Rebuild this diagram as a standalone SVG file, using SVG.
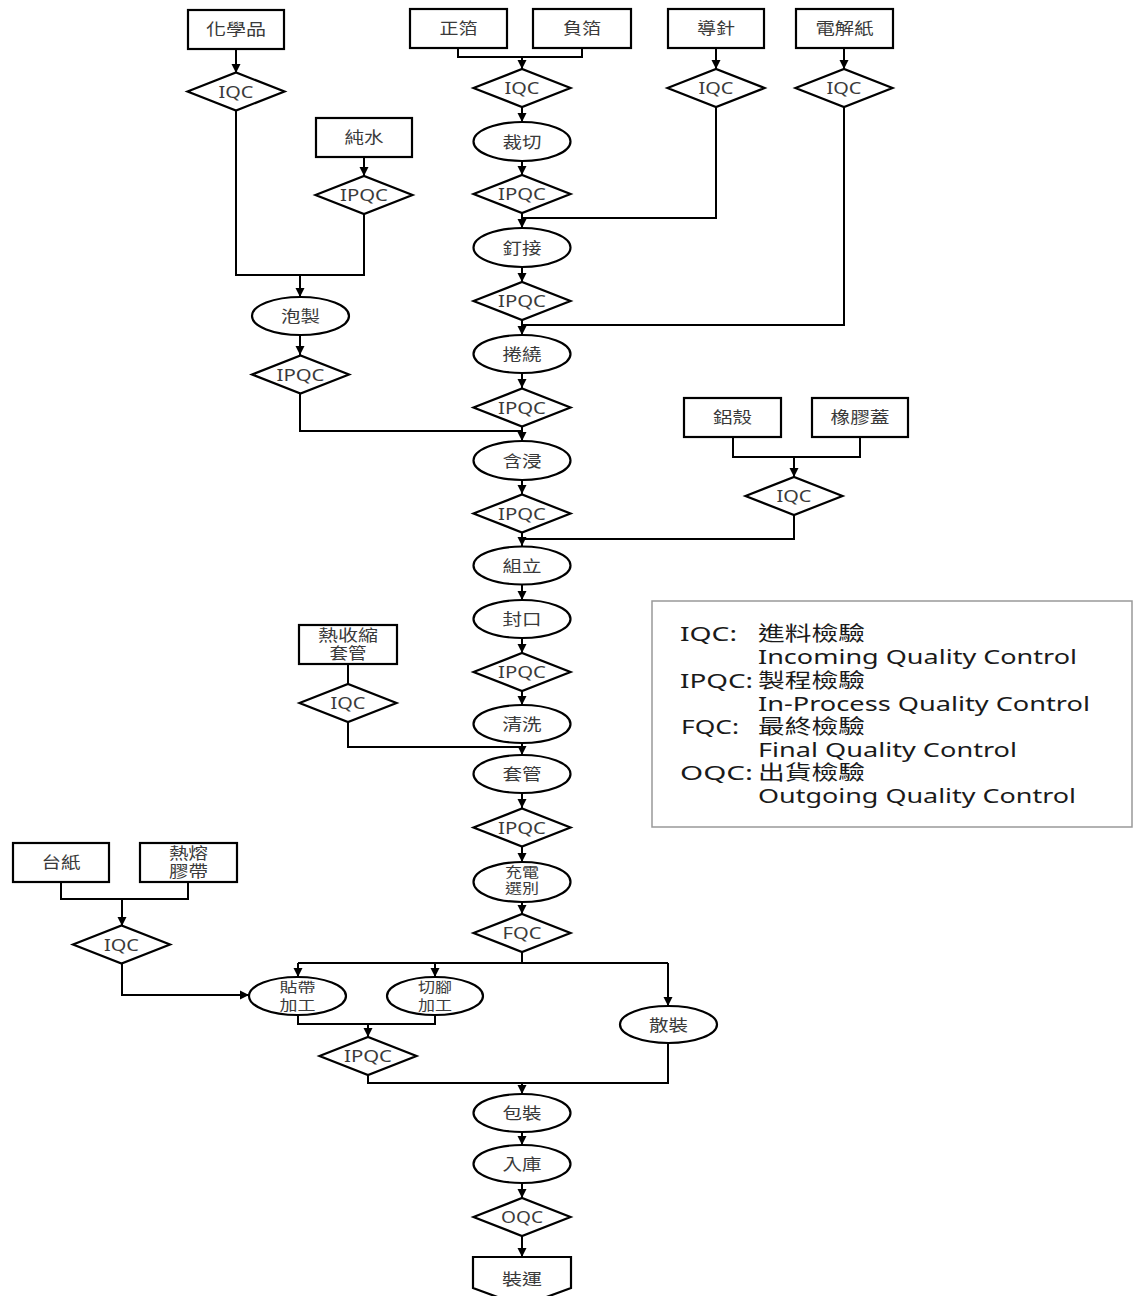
<svg xmlns="http://www.w3.org/2000/svg" width="1134" height="1296" viewBox="0 0 1134 1296">
<style>
.b{fill:#fff;stroke:#000;stroke-width:2.2}
.c{fill:none;stroke:#000;stroke-width:2}
.a{fill:none;stroke:#000;stroke-width:2;marker-end:url(#ah)}
.t{font-family:"Noto Sans","Noto Sans CJK TC",sans-serif;font-size:16px;fill:#3a3a3a;text-anchor:middle}
.q{font-family:"Noto Sans","Noto Sans CJK TC",sans-serif;font-size:17px;fill:#3a3a3a;text-anchor:middle}
.s{font-family:"Noto Sans","Noto Sans CJK TC",sans-serif;font-size:13.5px;fill:#3a3a3a;text-anchor:middle}
.l{font-family:"Noto Sans","Noto Sans CJK TC",sans-serif;font-size:20px;fill:#1a1a1a}
</style>
<defs>
<marker id="ah" viewBox="0 0 10 10" markerWidth="9" markerHeight="10" refX="10" refY="5" orient="auto" markerUnits="userSpaceOnUse"><path d="M0,0 L10,5 L0,10 z" fill="#000"/></marker>
</defs>
<rect width="1134" height="1296" fill="#fff"/>

<g id="connectors">
<path class="a" d="M236,49 V73"/>
<path class="c" d="M236,110 V275 H364 V214"/>
<path class="a" d="M300,275 V297"/>
<path class="a" d="M364,157 V176"/>
<path class="a" d="M300,335 V355"/>
<path class="c" d="M300,393 V431 H522"/>
<path class="c" d="M458,48 V57 H582 V48"/>
<path class="a" d="M522,57 V69"/>
<path class="a" d="M716,48 V69"/>
<path class="a" d="M844,48 V69"/>
<path class="a" d="M522,107 V122"/>
<path class="a" d="M522,161 V175"/>
<path class="c" d="M716,107 V218 H522"/>
<path class="a" d="M522,213 V228"/>
<path class="a" d="M522,267 V282"/>
<path class="c" d="M844,107 V325 H522"/>
<path class="a" d="M522,320 V335"/>
<path class="a" d="M522,373 V388"/>
<path class="a" d="M522,427 V441"/>
<path class="a" d="M522,480 V494"/>
<path class="c" d="M733,437 V457 H860 V437"/>
<path class="a" d="M794,457 V477"/>
<path class="c" d="M794,515 V539 H522"/>
<path class="a" d="M522,533 V546"/>
<path class="a" d="M522,585 V600"/>
<path class="a" d="M522,638 V653"/>
<path class="a" d="M522,691 V705"/>
<path class="c" d="M348,664 V684"/>
<path class="c" d="M348,722 V747 H522"/>
<path class="a" d="M522,743 V755"/>
<path class="a" d="M522,793 V808"/>
<path class="a" d="M522,847 V862"/>
<path class="a" d="M522,902 V914"/>
<path class="c" d="M522,952 V963 M298,963 H668"/>
<path class="a" d="M298,963 V977"/>
<path class="a" d="M435,963 V977"/>
<path class="a" d="M668,963 V1006"/>
<path class="c" d="M61,882 V899 H188 V882"/>
<path class="a" d="M122,899 V926"/>
<path class="a" d="M122,963 V995 H249"/>
<path class="c" d="M298,1015 V1024 H435 V1015"/>
<path class="a" d="M368,1024 V1037"/>
<path class="c" d="M368,1075 V1083 H668 V1043"/>
<path class="a" d="M522,1083 V1094"/>
<path class="a" d="M522,1132 V1145"/>
<path class="a" d="M522,1183 V1198"/>
<path class="a" d="M522,1236 V1257"/>
</g>

<g id="n-chem"><rect class="b" x="188" y="10" width="96" height="39"/><text class="t" x="236" y="35" textLength="60" lengthAdjust="spacingAndGlyphs">化學品</text></g>
<g id="n-chem-iqc"><polygon class="b" points="187.5,91.5 236,72.5 284.5,91.5 236,110.5"/><text class="q" x="236" y="97.5" textLength="35" lengthAdjust="spacingAndGlyphs">IQC</text></g>
<g id="n-water"><rect class="b" x="316" y="118" width="96" height="39"/><text class="t" x="364" y="143" textLength="39" lengthAdjust="spacingAndGlyphs">純水</text></g>
<g id="n-water-ipqc"><polygon class="b" points="315.5,195 364,176 412.5,195 364,214"/><text class="q" x="364" y="201" textLength="48" lengthAdjust="spacingAndGlyphs">IPQC</text></g>
<g id="n-pos"><rect class="b" x="410" y="9" width="97" height="39"/><text class="t" x="458.5" y="34" textLength="38" lengthAdjust="spacingAndGlyphs">正箔</text></g>
<g id="n-neg"><rect class="b" x="533" y="9" width="98" height="39"/><text class="t" x="582" y="34" textLength="38" lengthAdjust="spacingAndGlyphs">負箔</text></g>
<g id="n-lead"><rect class="b" x="668" y="9" width="96" height="39"/><text class="t" x="716" y="34" textLength="38" lengthAdjust="spacingAndGlyphs">導針</text></g>
<g id="n-paper"><rect class="b" x="796" y="9" width="97" height="39"/><text class="t" x="844.5" y="34" textLength="58" lengthAdjust="spacingAndGlyphs">電解紙</text></g>
<g id="n-foil-iqc"><polygon class="b" points="473.5,88 522,69 570.5,88 522,107"/><text class="q" x="522" y="94" textLength="35" lengthAdjust="spacingAndGlyphs">IQC</text></g>
<g id="n-lead-iqc"><polygon class="b" points="667.5,88 716,69 764.5,88 716,107"/><text class="q" x="716" y="94" textLength="35" lengthAdjust="spacingAndGlyphs">IQC</text></g>
<g id="n-paper-iqc"><polygon class="b" points="795.5,88 844,69 892.5,88 844,107"/><text class="q" x="844" y="94" textLength="35" lengthAdjust="spacingAndGlyphs">IQC</text></g>
<g id="n-cut"><ellipse class="b" cx="522" cy="141.5" rx="48.5" ry="19.5"/><text class="t" x="522" y="147.5" textLength="39" lengthAdjust="spacingAndGlyphs">裁切</text></g>
<g id="n-cut-ipqc"><polygon class="b" points="473.5,194 522,175 570.5,194 522,213"/><text class="q" x="522" y="200" textLength="48" lengthAdjust="spacingAndGlyphs">IPQC</text></g>
<g id="n-stitch"><ellipse class="b" cx="522" cy="247.5" rx="48.5" ry="19.5"/><text class="t" x="522" y="253.5" textLength="39" lengthAdjust="spacingAndGlyphs">釘接</text></g>
<g id="n-stitch-ipqc"><polygon class="b" points="473.5,301 522,282 570.5,301 522,320"/><text class="q" x="522" y="307" textLength="48" lengthAdjust="spacingAndGlyphs">IPQC</text></g>
<g id="n-soak"><ellipse class="b" cx="300.5" cy="316" rx="48.5" ry="19"/><text class="t" x="300.5" y="322" textLength="39" lengthAdjust="spacingAndGlyphs">泡製</text></g>
<g id="n-soak-ipqc"><polygon class="b" points="252,374.5 300.5,355.5 349,374.5 300.5,393.5"/><text class="q" x="300.5" y="380.5" textLength="48" lengthAdjust="spacingAndGlyphs">IPQC</text></g>
<g id="n-wind"><ellipse class="b" cx="522" cy="354" rx="48.5" ry="19"/><text class="t" x="522" y="360" textLength="39" lengthAdjust="spacingAndGlyphs">捲繞</text></g>
<g id="n-wind-ipqc"><polygon class="b" points="473.5,407.5 522,388.5 570.5,407.5 522,426.5"/><text class="q" x="522" y="413.5" textLength="48" lengthAdjust="spacingAndGlyphs">IPQC</text></g>
<g id="n-imp"><ellipse class="b" cx="522" cy="460.5" rx="48.5" ry="19.5"/><text class="t" x="522" y="466.5" textLength="39" lengthAdjust="spacingAndGlyphs">含浸</text></g>
<g id="n-imp-ipqc"><polygon class="b" points="473.5,513.5 522,494.5 570.5,513.5 522,532.5"/><text class="q" x="522" y="519.5" textLength="48" lengthAdjust="spacingAndGlyphs">IPQC</text></g>
<g id="n-case"><rect class="b" x="684" y="398" width="97" height="39"/><text class="t" x="732.5" y="423" textLength="39" lengthAdjust="spacingAndGlyphs">鋁殼</text></g>
<g id="n-rubber"><rect class="b" x="812" y="398" width="96" height="39"/><text class="t" x="860" y="423" textLength="59" lengthAdjust="spacingAndGlyphs">橡膠蓋</text></g>
<g id="n-case-iqc"><polygon class="b" points="745.5,496 794,477 842.5,496 794,515"/><text class="q" x="794" y="502" textLength="35" lengthAdjust="spacingAndGlyphs">IQC</text></g>
<g id="n-assy"><ellipse class="b" cx="522" cy="565.5" rx="48.5" ry="19"/><text class="t" x="522" y="571.5" textLength="39" lengthAdjust="spacingAndGlyphs">組立</text></g>
<g id="n-seal"><ellipse class="b" cx="522" cy="619" rx="48.5" ry="19"/><text class="t" x="522" y="625" textLength="39" lengthAdjust="spacingAndGlyphs">封口</text></g>
<g id="n-seal-ipqc"><polygon class="b" points="473.5,672 522,653 570.5,672 522,691"/><text class="q" x="522" y="678" textLength="48" lengthAdjust="spacingAndGlyphs">IPQC</text></g>
<g id="n-wash"><ellipse class="b" cx="522" cy="724" rx="48.5" ry="19"/><text class="t" x="522" y="730" textLength="39" lengthAdjust="spacingAndGlyphs">清洗</text></g>
<g id="n-tube"><rect class="b" x="299" y="625" width="98" height="39"/><text class="t" x="348" y="640.5" textLength="60" lengthAdjust="spacingAndGlyphs">熱收縮</text><text class="t" x="348" y="659" textLength="37" lengthAdjust="spacingAndGlyphs">套管</text></g>
<g id="n-tube-iqc"><polygon class="b" points="299.5,703 348,684 396.5,703 348,722"/><text class="q" x="348" y="709" textLength="35" lengthAdjust="spacingAndGlyphs">IQC</text></g>
<g id="n-sleeve"><ellipse class="b" cx="522" cy="774" rx="48.5" ry="19"/><text class="t" x="522" y="780" textLength="39" lengthAdjust="spacingAndGlyphs">套管</text></g>
<g id="n-sleeve-ipqc"><polygon class="b" points="473.5,827.5 522,808.5 570.5,827.5 522,846.5"/><text class="q" x="522" y="833.5" textLength="48" lengthAdjust="spacingAndGlyphs">IPQC</text></g>
<g id="n-charge"><ellipse class="b" cx="522" cy="882" rx="48.5" ry="20"/><text class="s" x="522" y="877" textLength="34" lengthAdjust="spacingAndGlyphs">充電</text><text class="s" x="522" y="893" textLength="34" lengthAdjust="spacingAndGlyphs">選別</text></g>
<g id="n-fqc"><polygon class="b" points="473.5,933 522,914 570.5,933 522,952"/><text class="q" x="522" y="939" textLength="39" lengthAdjust="spacingAndGlyphs">FQC</text></g>
<g id="n-board"><rect class="b" x="13" y="843" width="96" height="39"/><text class="t" x="61" y="868" textLength="39" lengthAdjust="spacingAndGlyphs">台紙</text></g>
<g id="n-tape"><rect class="b" x="140" y="843" width="97" height="39"/><text class="t" x="188.5" y="858.5" textLength="39" lengthAdjust="spacingAndGlyphs">熱熔</text><text class="t" x="188.5" y="877" textLength="39" lengthAdjust="spacingAndGlyphs">膠帶</text></g>
<g id="n-tape-iqc"><polygon class="b" points="73,944.5 121.5,925.5 170,944.5 121.5,963.5"/><text class="q" x="121.5" y="950.5" textLength="35" lengthAdjust="spacingAndGlyphs">IQC</text></g>
<g id="n-taping"><ellipse class="b" cx="297.5" cy="996" rx="48.5" ry="19"/><text class="s" x="297.5" y="991.5" textLength="36" lengthAdjust="spacingAndGlyphs">貼帶</text><text class="s" x="297.5" y="1009.5" textLength="36" lengthAdjust="spacingAndGlyphs">加工</text></g>
<g id="n-legcut"><ellipse class="b" cx="435" cy="996" rx="48" ry="19"/><text class="s" x="435" y="991.5" textLength="34" lengthAdjust="spacingAndGlyphs">切腳</text><text class="s" x="435" y="1009.5" textLength="34" lengthAdjust="spacingAndGlyphs">加工</text></g>
<g id="n-bulk"><ellipse class="b" cx="668.5" cy="1024.5" rx="48.5" ry="18.5"/><text class="t" x="668.5" y="1030.5" textLength="39" lengthAdjust="spacingAndGlyphs">散裝</text></g>
<g id="n-proc-ipqc"><polygon class="b" points="319.5,1056 368,1037 416.5,1056 368,1075"/><text class="q" x="368" y="1062" textLength="48" lengthAdjust="spacingAndGlyphs">IPQC</text></g>
<g id="n-pack"><ellipse class="b" cx="522" cy="1113" rx="48.5" ry="19"/><text class="t" x="522" y="1119" textLength="39" lengthAdjust="spacingAndGlyphs">包裝</text></g>
<g id="n-stock"><ellipse class="b" cx="522" cy="1164" rx="48.5" ry="19"/><text class="t" x="522" y="1170" textLength="39" lengthAdjust="spacingAndGlyphs">入庫</text></g>
<g id="n-oqc"><polygon class="b" points="473.5,1217 522,1198 570.5,1217 522,1236"/><text class="q" x="522" y="1223" textLength="42" lengthAdjust="spacingAndGlyphs">OQC</text></g>
<g id="n-ship"><polygon class="b" points="473,1257 571,1257 571,1288 522,1306 473,1288"/><text class="t" x="522" y="1285" textLength="40" lengthAdjust="spacingAndGlyphs">裝運</text></g>

<g id="legend">
<rect x="652" y="601" width="480" height="226" fill="#fff" stroke="#999" stroke-width="1.5"/>
<text class="l" x="680" y="641" textLength="57" lengthAdjust="spacingAndGlyphs">IQC:</text>
<text class="l" x="758" y="641" textLength="107" lengthAdjust="spacingAndGlyphs">進料檢驗</text>
<text class="l" x="758" y="664" textLength="319" lengthAdjust="spacingAndGlyphs">Incoming Quality Control</text>
<text class="l" x="680" y="688" textLength="73" lengthAdjust="spacingAndGlyphs">IPQC:</text>
<text class="l" x="758" y="688" textLength="107" lengthAdjust="spacingAndGlyphs">製程檢驗</text>
<text class="l" x="758" y="711" textLength="332" lengthAdjust="spacingAndGlyphs">In-Process Quality Control</text>
<text class="l" x="681" y="734" textLength="58" lengthAdjust="spacingAndGlyphs">FQC:</text>
<text class="l" x="758" y="734" textLength="107" lengthAdjust="spacingAndGlyphs">最終檢驗</text>
<text class="l" x="758" y="757" textLength="259" lengthAdjust="spacingAndGlyphs">Final Quality Control</text>
<text class="l" x="680" y="780" textLength="73" lengthAdjust="spacingAndGlyphs">OQC:</text>
<text class="l" x="758" y="780" textLength="107" lengthAdjust="spacingAndGlyphs">出貨檢驗</text>
<text class="l" x="758" y="803" textLength="318" lengthAdjust="spacingAndGlyphs">Outgoing Quality Control</text>
</g>
</svg>
